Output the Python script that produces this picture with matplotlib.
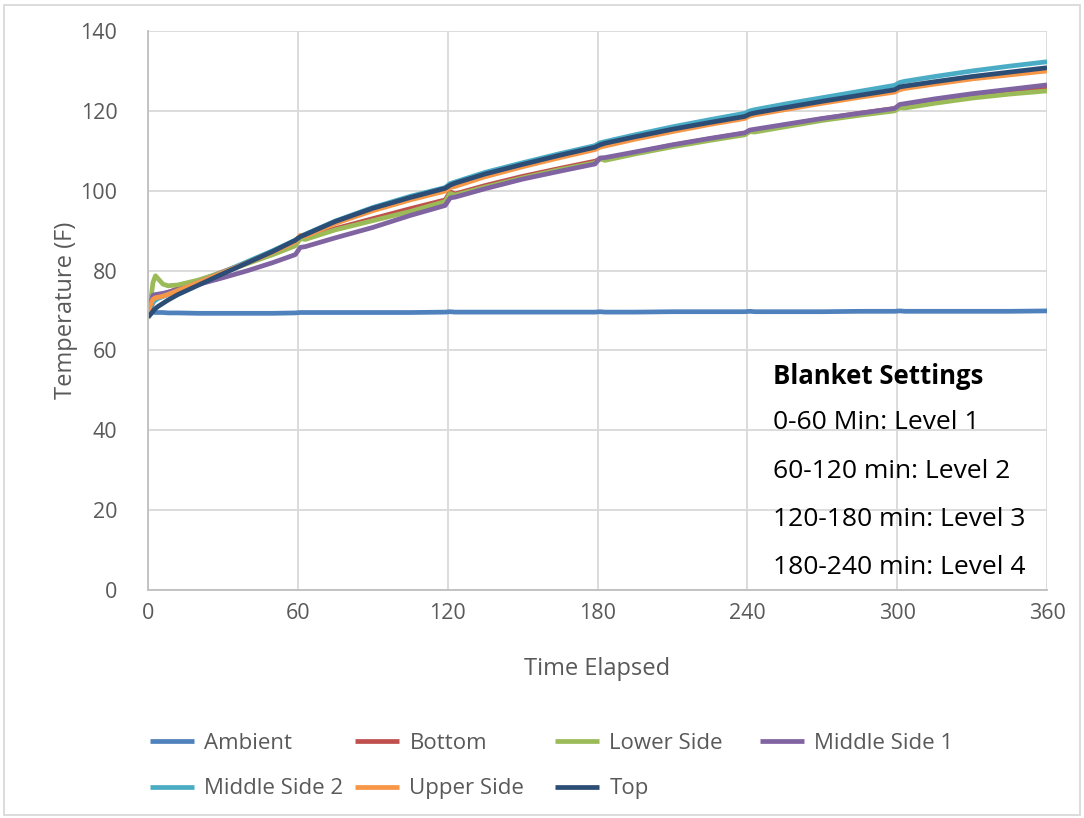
import matplotlib.pyplot as plt
from matplotlib.patches import Rectangle

plt.rcParams['font.family'] = ['Open Sans', 'DejaVu Sans']

# Час (хв) у точках
minutes = [0, 1, 2, 3, 4, 6, 8, 12, 20, 30, 40, 50, 59, 61, 63, 75, 90, 105,
           119, 121, 123, 135, 150, 165, 179, 181, 183, 195, 210, 225, 239,
           241, 243, 255, 270, 285, 299, 301, 303, 315, 330, 345, 360]

ambient = [70.8, 69.8, 69.6, 69.5, 69.5, 69.5, 69.4, 69.4, 69.3, 69.3, 69.3,
           69.3, 69.4, 69.5, 69.5, 69.5, 69.5, 69.5, 69.6, 69.7, 69.6, 69.6,
           69.6, 69.6, 69.6, 69.7, 69.6, 69.6, 69.7, 69.7, 69.7, 69.8, 69.7,
           69.7, 69.7, 69.8, 69.8, 69.9, 69.8, 69.8, 69.8, 69.8, 69.9]
bottom = [69.0, 70.5, 72.0, 73.0, 73.5, 74.0, 74.5, 75.5, 77.3, 79.7, 82.0,
          84.3, 86.5, 88.5, 88.0, 90.5, 93.0, 95.5, 97.7, 99.7, 99.2, 101.3,
          103.6, 105.6, 107.4, 108.0, 107.9, 109.5, 111.4, 113.0, 114.4,
          115.0, 115.0, 116.4, 118.0, 119.4, 120.6, 121.2, 121.2, 122.4,
          123.7, 124.8, 125.8]
lower_side = [69.0, 72.0, 77.0, 78.7, 78.0, 76.6, 76.2, 76.4, 77.6, 79.6,
              81.8, 84.0, 86.2, 88.0, 87.8, 90.2, 92.5, 94.8, 97.3, 99.3,
              98.9, 100.9, 103.2, 105.3, 107.0, 108.0, 107.6, 109.2, 111.0,
              112.6, 114.0, 114.8, 114.7, 116.0, 117.6, 118.9, 120.0, 120.8,
              120.7, 121.9, 123.2, 124.2, 125.0]
middle_side_1 = [69.0, 71.5, 73.8, 74.0, 74.1, 74.3, 74.6, 75.2, 76.5, 78.2,
                 80.0, 82.0, 84.0, 85.8, 86.0, 88.2, 90.8, 93.8, 96.3, 98.2,
                 98.4, 100.5, 102.9, 104.9, 106.7, 108.2, 108.3, 109.7, 111.5,
                 113.1, 114.5, 115.2, 115.4, 116.6, 118.1, 119.4, 120.6,
                 121.6, 121.8, 123.0, 124.3, 125.4, 126.5]
middle_side_2 = [70.0, 71.0, 72.0, 72.6, 73.0, 73.5, 74.0, 75.0, 77.0, 79.6,
                 82.3, 85.0, 87.6, 88.6, 89.1, 92.4, 95.8, 98.6, 100.8, 101.8,
                 102.2, 104.6, 107.0, 109.3, 111.3, 112.0, 112.3, 114.0,
                 116.0, 117.8, 119.4, 120.0, 120.3, 121.7, 123.3, 124.9,
                 126.4, 127.1, 127.4, 128.6, 130.0, 131.2, 132.3]
upper_side = [69.5, 71.5, 72.8, 73.2, 73.3, 73.6, 74.0, 75.0, 77.0, 79.5,
              82.0, 84.6, 87.2, 88.8, 88.6, 91.8, 95.0, 97.7, 99.9, 100.8,
              101.1, 103.5, 106.0, 108.3, 110.3, 110.9, 111.2, 112.9, 114.8,
              116.6, 118.1, 118.7, 119.0, 120.3, 121.9, 123.4, 124.7, 125.3,
              125.6, 126.7, 128.0, 129.0, 130.0]
top = [68.3, 69.0, 69.8, 70.5, 71.0, 71.8, 72.6, 74.0, 76.3, 79.2, 82.0,
       84.8, 87.6, 88.5, 89.0, 92.3, 95.6, 98.3, 100.6, 101.4, 101.9, 104.2,
       106.6, 108.9, 110.9, 111.5, 111.9, 113.5, 115.4, 117.1, 118.6, 119.2,
       119.5, 120.8, 122.4, 123.9, 125.3, 126.0, 126.2, 127.3, 128.6, 129.7,
       130.8]

series = [
    ('Ambient', ambient, '#4F81BD'),
    ('Bottom', bottom, '#C0504D'),
    ('Lower Side', lower_side, '#9BBB59'),
    ('Middle Side 1', middle_side_1, '#8064A2'),
    ('Middle Side 2', middle_side_2, '#4BACC6'),
    ('Upper Side', upper_side, '#F79646'),
    ('Top', top, '#2C4D75'),
]

settings_title = 'Blanket Settings'
settings_lines = ['0-60 Min: Level 1', '60-120 min: Level 2',
                  '120-180 min: Level 3', '180-240 min: Level 4']

fig = plt.figure(figsize=(10.84, 8.18), dpi=100)
ax = fig.add_axes([0.1365, 0.2787, 0.8294, 0.6834])

handles = {}
for name, vals, col in series:
    ln, = ax.plot(minutes, vals, color=col, lw=3.4, label=name,
                  solid_capstyle='butt')
    handles[name] = ln

ax.set_xlim(0, 360)
ax.set_ylim(0, 140)
ax.set_xticks(range(0, 361, 60))
ax.set_yticks(range(0, 141, 20))
ax.grid(True, color='#D9D9D9', lw=1.3)
ax.set_axisbelow(True)
for s in ['top', 'right']:
    ax.spines[s].set_visible(False)
ax.spines['left'].set_color('#BFBFBF')
ax.spines['bottom'].set_color('#BFBFBF')
ax.spines['left'].set_linewidth(1.3)
ax.spines['bottom'].set_linewidth(1.3)
ax.tick_params(length=0, labelsize=15.5, colors='#595959')
ax.tick_params(axis='y', pad=22)
ax.tick_params(axis='x', pad=9)
ax.set_xlabel('Time Elapsed', fontsize=17, color='#595959', labelpad=24)
ax.set_ylabel('Temperature (F)', fontsize=17, color='#595959', labelpad=2)

# Блок з налаштуваннями ковдри
ax.text(0.695, 0.382, settings_title, transform=ax.transAxes, fontsize=18.5,
        fontweight='bold', va='center', ha='left')
for i, line in enumerate(settings_lines):
    ax.text(0.695, 0.299 - i * 0.0865, line, transform=ax.transAxes,
            fontsize=19, va='center', ha='left')

# Легенда: по колонці на кожну пару, як в Excel (однакова ширина колонок)
columns = [['Ambient', 'Middle Side 2'], ['Bottom', 'Upper Side'],
           ['Lower Side', 'Top'], ['Middle Side 1']]
col_x = [150, 355, 555, 760]
for names, px in zip(columns, col_x):
    leg = fig.legend([handles[n] for n in names], names, loc='upper left',
                     bbox_to_anchor=(px / 1084, 1 - 733 / 818),
                     frameon=False, fontsize=16, handlelength=2.0,
                     handletextpad=0.45, labelspacing=1.1,
                     borderaxespad=0, borderpad=0)
    for t in leg.get_texts():
        t.set_color('#595959')

fig.patches.append(Rectangle((0.004, 0.004), 0.992, 0.99, transform=fig.transFigure,
                             fill=False, edgecolor='#D9D9D9', lw=1.3))

fig.savefig('out.png', dpi=100)
